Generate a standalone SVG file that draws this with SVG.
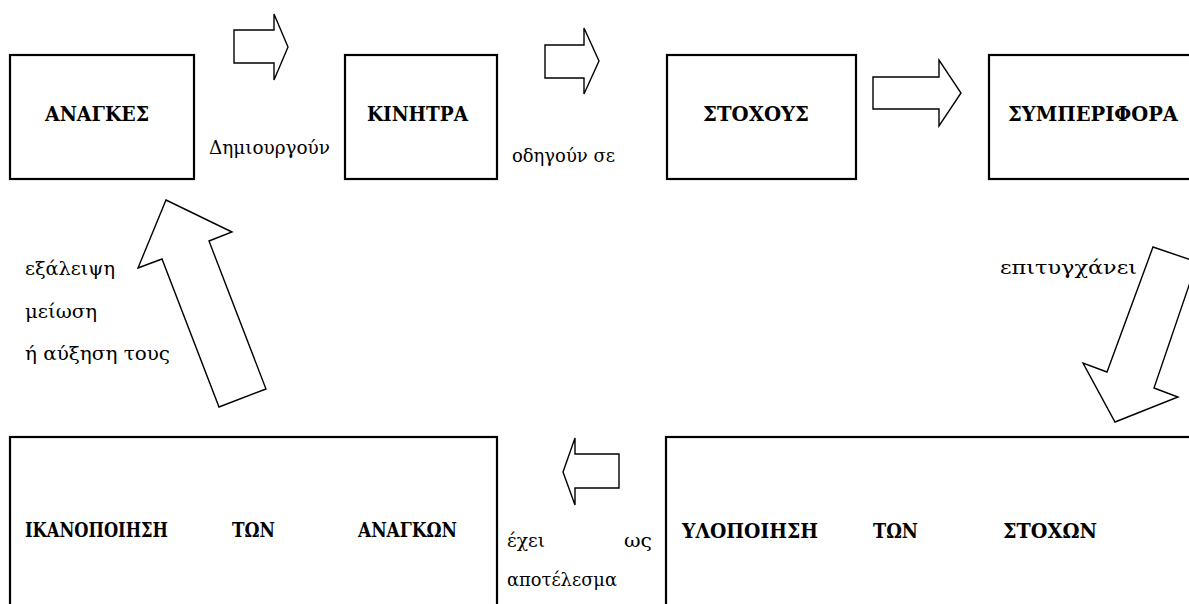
<svg xmlns="http://www.w3.org/2000/svg" width="1189" height="604" viewBox="0 0 1189 604">
<style>
.box{fill:#fff;stroke:#000;stroke-width:2.2}
.arr{fill:#fff;stroke:#000;stroke-width:1.4;stroke-linejoin:miter}
.t{font-family:"DejaVu Serif","Liberation Serif",serif;font-weight:bold;font-size:21px;fill:#000}
.tb{font-family:"DejaVu Serif","Liberation Serif",serif;font-weight:bold;font-size:20px;fill:#000}
.l{font-family:"DejaVu Serif","Liberation Serif",serif;font-size:19px;fill:#000}
</style>
<rect width="1189" height="604" fill="#fff"/>
<g id="connectors">
<polygon class="arr" points="234,30 274,30 274,14 288,47 274,80 274,63 234,63"/>
<polygon class="arr" points="545,45 584,45 584,28 599,61 584,94 584,78 545,78"/>
<polygon class="arr" points="873,77 939,77 939,60 961,93 939,126 939,109 873,109"/>
<polygon class="arr" points="1153,247 1197,262 1154,388 1178,397 1115,422 1083,363 1107,372"/>
<polygon class="arr" points="619,454 575,454 575,438 563,472 575,505 575,488 619,488"/>
<polygon class="arr" points="166,200 232,232 209,241 266,389 219,407 162,259 138,268"/>
<text class="l" x="209" y="154" textLength="121" lengthAdjust="spacingAndGlyphs">Δημιουργούν</text>
<text class="l" x="512" y="162" textLength="103" lengthAdjust="spacingAndGlyphs">οδηγούν σε</text>
<text class="l" x="1000" y="274" textLength="137" lengthAdjust="spacingAndGlyphs">επιτυγχάνει</text>
<text class="l" x="25" y="275" textLength="90" lengthAdjust="spacingAndGlyphs">εξάλειψη</text>
<text class="l" x="25" y="318" textLength="72" lengthAdjust="spacingAndGlyphs">μείωση</text>
<text class="l" x="25" y="360" textLength="145" lengthAdjust="spacingAndGlyphs">ή αύξηση τους</text>
<text class="l" x="507" y="547" textLength="38" lengthAdjust="spacingAndGlyphs">έχει</text>
<text class="l" x="624" y="547" textLength="28" lengthAdjust="spacingAndGlyphs">ως</text>
<text class="l" x="507" y="586" textLength="110" lengthAdjust="spacingAndGlyphs">αποτέλεσμα</text>
</g>
<g id="node-anagkes">
<rect class="box" x="10" y="55" width="184" height="124"/>
<text class="t" x="45" y="121" textLength="104" lengthAdjust="spacingAndGlyphs">ΑΝΑΓΚΕΣ</text>
</g>
<g id="node-kinhtra">
<rect class="box" x="345" y="55" width="152" height="124"/>
<text class="t" x="367" y="121" textLength="101" lengthAdjust="spacingAndGlyphs">ΚΙΝΗΤΡΑ</text>
</g>
<g id="node-stoxous">
<rect class="box" x="667" y="55" width="189" height="124"/>
<text class="t" x="703" y="121" textLength="106" lengthAdjust="spacingAndGlyphs">ΣΤΟΧΟΥΣ</text>
</g>
<g id="node-symperifora">
<rect class="box" x="989" y="55" width="230" height="124"/>
<text class="t" x="1008" y="121" textLength="170" lengthAdjust="spacingAndGlyphs">ΣΥΜΠΕΡΙΦΟΡΑ</text>
</g>
<g id="node-ikanopoiisi">
<rect class="box" x="10" y="437" width="487" height="200"/>
<text class="tb" x="25" y="537" textLength="143" lengthAdjust="spacingAndGlyphs">ΙΚΑΝΟΠΟΙΗΣΗ</text>
<text class="tb" x="232" y="537" textLength="43" lengthAdjust="spacingAndGlyphs">ΤΩΝ</text>
<text class="tb" x="358" y="537" textLength="99" lengthAdjust="spacingAndGlyphs">ΑΝΑΓΚΩΝ</text>
</g>
<g id="node-ylopoiisi">
<rect class="box" x="666" y="437" width="560" height="200"/>
<text class="tb" x="682" y="538" textLength="136" lengthAdjust="spacingAndGlyphs">ΥΛΟΠΟΙΗΣΗ</text>
<text class="tb" x="873" y="538" textLength="45" lengthAdjust="spacingAndGlyphs">ΤΩΝ</text>
<text class="tb" x="1003" y="538" textLength="94" lengthAdjust="spacingAndGlyphs">ΣΤΟΧΩΝ</text>
</g>
</svg>
